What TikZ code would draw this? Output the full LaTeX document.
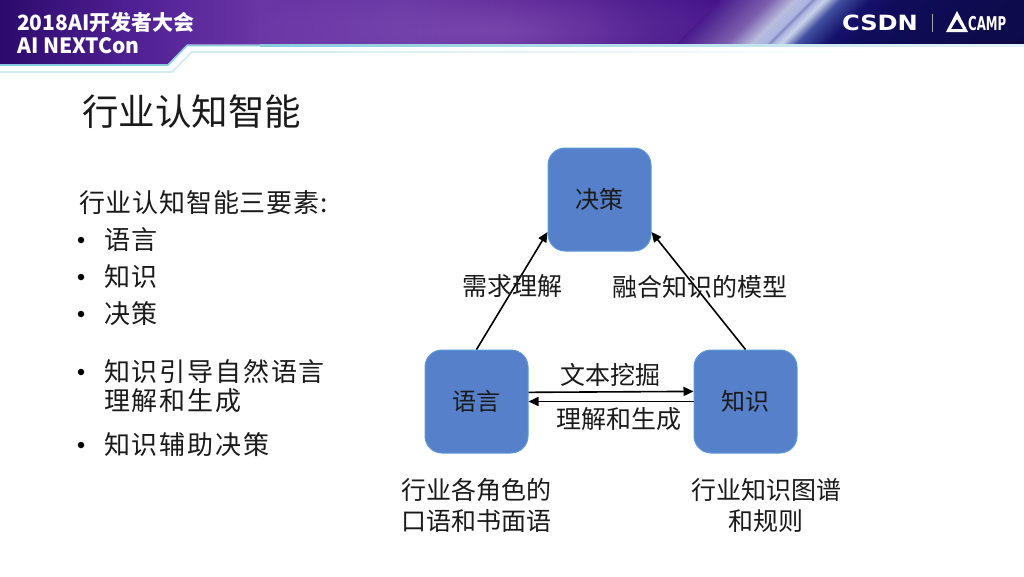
\documentclass[tikz,border=0pt]{standalone}
\usepackage{fontspec}
\usetikzlibrary{arrows.meta,fadings}
\setmainfont{Noto Sans CJK SC}
\newfontfamily\bodyfont[LetterSpace=7]{Noto Sans CJK SC}
\newfontfamily\introfont[LetterSpace=3]{Noto Sans CJK SC}
\newfontfamily\logofont{DejaVu Sans}
\definecolor{hA}{HTML}{2C0A6C}\definecolor{hB}{HTML}{4F2093}\definecolor{hC}{HTML}{6A35A5}
\definecolor{hD}{HTML}{6433A0}\definecolor{hE}{HTML}{571F90}\definecolor{hF}{HTML}{451488}
\definecolor{rA}{HTML}{47198A}\definecolor{rB}{HTML}{7B5FAE}\definecolor{rC}{HTML}{B9BDDD}
\definecolor{rD}{HTML}{A9B3DC}\definecolor{rE}{HTML}{7F86C4}\definecolor{rF}{HTML}{C9D2EA}
\definecolor{rG}{HTML}{4050A0}\definecolor{rH}{HTML}{15126A}\definecolor{rI}{HTML}{100C5A}\definecolor{rJ}{HTML}{0C0A40}
\definecolor{glow}{HTML}{9060C0}
\definecolor{boxfill}{HTML}{5680C9}\definecolor{boxline}{HTML}{5B9BD5}
\definecolor{teal1}{HTML}{86CBDD}\definecolor{pale1}{HTML}{D3EBF1}\definecolor{ink}{HTML}{1A1A1A}
\pgfdeclarehorizontalshading{hdrbase}{100bp}{color(0bp)=(hA);color(25bp)=(hA);color(31.5bp)=(hB);color(38bp)=(hC);color(45bp)=(hD);color(51bp)=(hE);color(57bp)=(hF);color(75bp)=(hF);color(100bp)=(hF)}
\pgfdeclarehorizontalshading{hdrright}{100bp}{color(0bp)=(rA);color(25bp)=(rA);color(31.25bp)=(rB);color(34.4bp)=(rC);color(36.2bp)=(rD);color(36.6bp)=(rE);color(37bp)=(rD);color(38.1bp)=(rF);color(40bp)=(rG);color(43.75bp)=(rH);color(47.5bp)=(rI);color(75bp)=(rJ);color(100bp)=(rJ)}
\tikzfading[name=glowfade,inner color=transparent!45,outer color=transparent!100]
\tikzfading[name=streakfade,left color=transparent!100,middle color=transparent!78,right color=transparent!100]
\tikzset{
  blockbox/.style={draw=boxline,line width=1pt,fill=boxfill,rounded corners=17pt,minimum width=103pt,minimum height=103pt,inner sep=0pt,font=\fontsize{24}{28}\selectfont,text=ink},
  flowarrow/.style={draw=black,line width=1.6pt,-{Triangle[length=10pt,width=9pt]}},
  lab/.style={inner sep=0pt,font=\fontsize{25}{31}\selectfont,text=ink,align=center},
  bodytext/.style={inner sep=0pt,anchor=west,font=\fontsize{26}{29}\selectfont\bodyfont,text=ink,align=left},
  bulletdot/.style={circle,fill=black,inner sep=0pt,minimum size=6.5pt},
  hdrtext/.style={inner sep=0pt,anchor=west,text=white,font=\fontsize{21}{24}\selectfont\bfseries},
}
\begin{document}
\begin{tikzpicture}[x=1pt,y=-1pt]
\useasboundingbox (0,0) rectangle (1024,576);
\fill[white] (0,0) rectangle (1024,576);
% header band
\begin{scope}
\clip (0,0) -- (1024,0) -- (1024,44.5) -- (187,44.5) -- (168,64) -- (0,64) -- cycle;
\shade[shading=hdrbase] (0,-1) rectangle (1000,70);
\fill[glow,path fading=glowfade] (240,-25) rectangle (760,85);
\begin{scope}[transform canvas={xslant=-1.5}]
\fill[white,path fading=streakfade] (245,0) rectangle (325,46);
\end{scope}
\begin{scope}[transform canvas={xslant=1}]
\shade[shading=hdrright] (720,0) rectangle (1120,46);
\end{scope}
\end{scope}
% stripes under the band
\fill[white!92!pale1] (0,65) -- (168,65) -- (187,46) -- (700,46) -- (700,52) -- (191,52) -- (172,72) -- (0,72) -- cycle;
\draw[teal1,line width=1.6pt] (0,65) -- (168,65) -- (187,45.5) -- (260,45.5);
\shade[left color=teal1,right color=pale1!60!white] (260,44.7) rectangle (1024,46.4);
\draw[pale1,line width=1.6pt] (0,72) -- (172,72) -- (192,52) -- (260,52);
\shade[left color=pale1,right color=white] (260,51.2) rectangle (900,52.8);
% header text
\node[hdrtext] (conf) at (17,22) {2018AI开发者大会};
\node[hdrtext] (next) at (17,46) {AI NEXTCon};
\node[inner sep=0pt,text=white,font=\logofont\bfseries\fontsize{21}{22}\selectfont,xscale=1.15] (csdn) at (880,23) {CSDN};
\draw[gray!70!white,line width=1pt] (932,14) -- (932,32);
\fill[white,even odd rule] (957,11) -- (968,32) -- (946,32) -- cycle (957,19) -- (951,29) -- (963,29) -- cycle;
\node[inner sep=0pt,text=white,font=\logofont\bfseries\fontsize{19}{19}\selectfont,xscale=.62,anchor=west] (camp) at (968,24) {CAMP};
% title
\node[inner sep=0pt,anchor=west,text=ink,font=\fontsize{36.5}{40}\selectfont] (title) at (82,112) {行业认知智能};
% left text
\node[bodytext,font=\fontsize{26}{29}\selectfont\introfont] (t0) at (79,203) {行业认知智能三要素:};
\node[bodytext] (t1) at (104,240) {语言};
\node[bodytext] (t2) at (104,277) {知识};
\node[bodytext] (t3) at (104,314) {决策};
\node[bodytext] (t4) at (104,386.5) {知识引导自然语言\\理解和生成};
\node[bodytext] (t5) at (104,445) {知识辅助决策};
\node[bulletdot] (b1) at (81,240) {};
\node[bulletdot] (b2) at (81,277) {};
\node[bulletdot] (b3) at (81,314) {};
\node[bulletdot] (b4) at (81,372) {};
\node[bulletdot] (b5) at (81,445) {};
% blocks
\node[blockbox] (jc) at (599.5,199.5) {决策};
\node[blockbox] (yy) at (476.5,401.5) {语言};
\node[blockbox] (zs) at (745.5,401.5) {知识};
% connectors
\draw[flowarrow] (yy.north) -- (jc.212);
\draw[flowarrow] (zs.north) -- (jc.328);
\draw[flowarrow] (yy.10.5) -- (zs.169.5);
\draw[flowarrow] (zs.west) -- (yy.east);
% labels
\node[lab] (l1) at (512,286) {需求理解};
\node[lab] (l2) at (699.5,287) {融合知识的模型};
\node[lab] (l3) at (610,375) {文本挖掘};
\node[lab] (l4) at (619,419) {理解和生成};
\node[lab] (l5) at (476.5,505.5) {行业各角色的\\口语和书面语};
\node[lab] (l6) at (766,505.5) {行业知识图谱\\和规则};
\end{tikzpicture}
\end{document}
